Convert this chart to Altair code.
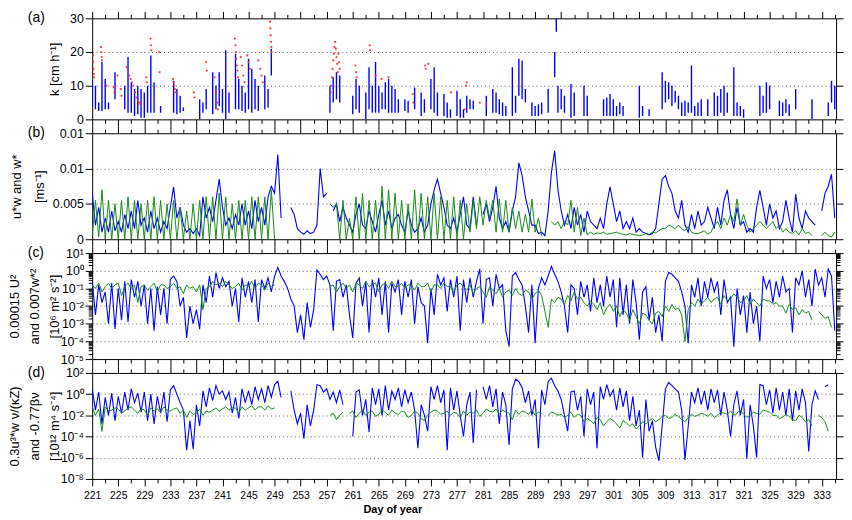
import altair as alt
import pandas as pd

FONT = "Liberation Sans"
BLUE = "#0000ff"
GREEN = "#168c16"
RED = "#ff2a2a"
W = 751
HA, H = 102, 107
XDOM = [221, 335.2]

# half-day sampling grid, day 221.0 ... 335.0
days = [221 + 0.5 * i for i in range(229)]

# ---------- panel (a): k [cm/h], vertical segments (low, high) ----------
k_day = [221.0, 221.5, 222.0, 222.5, 223.0, 223.5, 224.5, 226.0, 226.5, 227.0,
         227.5, 228.0, 228.5, 229.0, 229.5, 230.0, 230.5, 231.5, 233.5, 234.0,
         234.5, 235.0, 237.5, 238.0, 238.5, 239.5, 240.0, 240.5, 241.0, 241.5,
         242.0, 243.0, 243.5, 244.0, 244.5, 245.0, 245.5, 246.0, 246.5, 247.5,
         248.0, 248.5, 257.5, 258.0, 258.5, 259.0, 261.0, 261.5, 262.0, 263.0,
         263.5, 264.0, 264.5, 265.0, 265.5, 266.0, 266.5, 267.0, 267.5, 268.0,
         269.0, 269.5, 270.5, 271.5, 272.0, 273.0, 273.5, 274.0, 275.0, 275.5,
         276.0, 277.0, 277.5, 278.0, 278.5, 279.0, 279.5, 281.5, 282.5, 283.0,
         283.5, 284.0, 284.5, 285.5, 286.0, 286.5, 287.0, 287.5, 288.5, 289.0,
         289.5, 290.0, 291.0, 292.0, 292.25, 292.5, 293.0, 293.5, 294.5, 295.0,
         296.5, 297.0, 299.5, 300.0, 300.5, 301.0, 301.5, 302.0, 302.5, 305.0,
         305.5, 306.5, 308.5, 309.0, 309.5, 310.0, 310.5, 311.0, 311.5, 312.0,
         312.5, 313.0, 313.5, 314.0, 314.5, 315.5, 316.5, 317.0, 317.5, 318.0,
         318.5, 319.5, 320.0, 320.5, 321.0, 323.5, 324.0, 324.5, 325.0, 326.5,
         327.0, 327.5, 328.0, 329.0, 331.5, 334.0, 334.5, 335.0]
k_low = [4, 3, 2.5, 2.5, 3, 3, 6, 3, 2, 2,
         1, 1.5, 0.5, 0.5, 2, 2, 2, 2, 2, 1.5,
         2, 2.5, 0, 2, 3, 1.5, 3, 4, 2, 0,
         2, 3, 3, 2.5, 2, 3, 2, 3, 2.5, 3,
         3.5, 13, 2, 5, 6, 5, 1.5, 3, 2, 0,
         3, 2, 2, 2, 3, 3, 2, 2, 2, 2,
         2.5, 2, 3, 1, 2, 3, 2, 1, 1, 0.5,
         0.5, 1, 0.5, 0.5, 2, 3, 3, 1, 2, 2,
         1.5, 1, 1, 1, 2, 7, 6, 5, 1, 1,
         1, 1.5, 2, 12.5, 26, 2, 3, 2, 0.5, 1,
         1, 1, 1, 1, 1, 1, 1, 1.5, 1, 0.5,
         1, 1, 3, 5, 6, 4, 5, 3, 1, 1,
         2, 2, 1, 1, 1, 1, 1, 1, 2, 1,
         2, 1, 1, 1, 0.5, 1, 2, 2, 3, 1,
         1, 2, 1, 3, 0, 1, 5, 3]
k_high = [11.5, 10, 5, 17, 12, 5, 14, 10, 18.5, 11,
          9, 10, 9, 8, 10, 19, 11, 4, 11.5, 9,
          7, 3.5, 6, 5, 9, 14, 10, 14, 9, 20.5,
          8, 19.5, 12, 10, 8, 18, 15, 12, 10, 13,
          9, 21, 10, 12.5, 14, 13, 7, 12, 10, 8,
          15.5, 10, 17, 10, 8, 11, 12, 10, 9, 6,
          6, 5.5, 9.5, 8, 6, 12, 15.5, 8, 7.5, 5,
          3, 8.5, 6, 3, 7, 6, 5.5, 7, 9, 8,
          6, 5, 4, 15.5, 7, 18, 17.5, 9, 5, 4,
          4.5, 5, 9, 20, 30, 10, 9, 7, 10.5, 8,
          10, 7, 6, 6.5, 7.5, 6, 4, 5, 4, 10,
          4, 3, 14, 11.5, 11, 10, 8.5, 7, 5, 5.5,
          5, 16, 4, 5, 6, 6, 8, 7, 9, 10,
          8, 15.5, 5, 4, 3, 10, 7, 11, 10, 5.5,
          5, 6, 4.5, 9, 6, 5, 11.5, 10]

# red points in panel (a)
red_day = [221.1, 221.15, 221.2, 221.25, 221.3, 222.35, 222.4, 222.45, 222.5, 223.2,
           224.3, 224.4, 224.9, 225.4, 225.5, 226.3, 226.5, 226.7, 226.9, 227.1,
           227.3, 227.6, 227.8, 228.0, 228.2, 228.4, 229.3, 229.4, 229.95, 230.0,
           230.05, 231.3, 231.35, 233.4, 233.5, 233.6, 233.7, 233.8, 236.6, 236.7,
           238.5, 238.6, 239.8, 240.0, 240.2, 240.3, 242.9, 243.0, 243.05, 243.1,
           243.2, 243.3, 243.4, 243.8, 244.0, 244.2, 244.4, 244.8, 245.0, 245.2,
           246.5, 246.8, 247.0, 247.2, 248.3, 248.35, 248.4, 248.45, 248.5, 248.55,
           257.6, 257.7, 257.8, 257.9, 258.0, 258.1, 258.2, 258.3, 258.4, 258.5,
           258.6, 258.7, 258.8, 258.9, 259.0, 261.4, 261.5, 261.6, 263.6, 263.65,
           264.5, 265.4, 266.5, 270.2, 270.3, 272.1, 272.2, 272.6, 276.1, 278.2,
           278.4, 278.5, 280.5, 281.5]
red_k = [19, 17, 15, 13.5, 12.5, 21.5, 20, 18.5, 17.5, 10,
         9.5, 8, 13, 9, 7, 15.5, 14.5, 13, 12, 11,
         10, 8, 6.5, 5.5, 5, 4.5, 12.5, 11, 24, 22,
         20.5, 20, 14, 12, 11, 10, 9, 8, 8, 6.5,
         17, 14.5, 12.5, 8, 5, 3, 24, 22, 20, 18,
         16, 14.5, 12.5, 18.5, 16, 13, 11, 19, 17, 15,
         17.5, 15, 13, 11, 29, 27, 25, 23, 21.5, 20,
         8, 10, 12.5, 15, 17.5, 19.5, 21.5, 23, 21, 18.5,
         16.5, 14, 19.5, 17, 15, 16, 14, 12.5, 22, 20.5,
         13, 12, 12.5, 7.5, 5, 16, 15, 16.5, 8, 3,
         10, 11, 5, 4.5]

# ---------- panel (b): u*w and w* [mm/s], half-day values ----------
uw_mm = [
    6.5, 2, 4.5, 1, 3, 1, 4, 1.2,          # 221-224
    2.5, 1, 3.5, 1.5, 4, 1.5, 5.5, 2,      # 225-228
    3, 1, 4, 1.5, 3, 1, 2.5, 1.5,          # 229-232
    4.5, 7.4, 3, 4.5, 2, 1, 1.5, 0.8,      # 233-236
    1.5, 0.5, 6, 3, 4.5, 2.5, 5.5, 8.5,    # 237-240
    4.5, 2, 3, 1.5, 3.5, 2, 5, 2,          # 241-244
    4, 1.5, 5.5, 2.5, 4.5, 2, 6, 7.5,      # 245-248
    6.5, 12, 3, None, None, 4.5, 3.5, 1.5, # 249-252
    1, 0.7, 1.2, 0.8, 1, 2, 10, 6,         # 253-256
    6.5, None, 4, 5, 2.5, 4.5, 3, 2,       # 257-260
    1, 3.5, 5, 2, 1.5, 4, 2.5, 1,          # 261-264
    3.5, 5.5, 2, 4, 1.5, 3, 3.5, 2,        # 265-268
    1, 4, 2, 1, 1.5, 3, 1, 2,              # 269-272
    5, 7, 8.5, 6.5, 4.5, 2, 1.5, 3,        # 273-276
    1, 3.5, 6, 2, 1.5, 6, 2, None,         # 277-280
    3.5, 5, 2.5, 4.5, 7.5, 3, 1.5, 2.5,    # 281-284
    1, 4, 6, 10.8, 9, 6, 4, 2,             # 285-288
    2, 0.8, 1, 0.5, 4, 9.5, 12.5, 7,       # 289-292
    4, 2, 3.5, 1.5, 4.5, 2, 3.5, 1,        # 293-296
    4, 2.5, 2, 1.5, 3, 1.5, 5, 7.4,        # 297-300
    5, 2.5, 4, 1.5, 2.5, 1.5, 3, 1,        # 301-304
    1.5, 1, 0.8, 0.6, 0.8, 1.5, 5, 8.5,    # 305-308
    9, 7.5, 6.5, 4, 3, 5.5, 2, 1,          # 309-312
    3.5, 1.5, 4, 2, 2.5, 4.5, 3, 1.5,      # 313-316
    4.5, 2, 5.5, 7, 3.5, 1.5, 4.5, 2,      # 317-320
    2.5, 1, 1.5, 1, 4.5, 6.9, 4.5, 2,      # 321-324
    5, 3, 4, 1.5, 2.5, 5.5, 3, 1,          # 325-328
    6.4, 3, 1.5, 4, 3, 2.5, 2, None,       # 329-332
    4, 6.5, 7.5, 9.2, 3]                   # 333-335
wstar_mm = [
    0.5, 5.5, 0.3, 7, 0, 5.5, 0, 5,
    0, 5.5, 0, 6, 0, 5.5, 0, 5,
    0, 5.5, 0, 6, 0, 5.5, 0, 5,
    0, 5.5, 0, 4.5, 0, 4, 0, 5,
    0, 5.5, 0, 6, 0, 6, 0, 6.5,
    0, 6, 0, 5, 0, 5.5, 0, 5.5,
    0, 6, 0, 6, 0, 6, 0, 7,
    0, None, None, None, None, None, None, None,
    None, None, None, None, None, None, None, None,
    None, 5, 4.5, 5, 0, 5.5, 0, 3,
    0, 6, 0, 6.5, 0, 5.5, 0, 5.5,
    0, 7.5, 0, 7, 0, 6.5, 0, 5.5,
    0, 5, 0, 7, 0, 6.5, 0, 6,
    0, 6.5, 0, 6, 0, 5.5, 0, 6,
    0, 5.5, 0, 5, 1, 5.5, 1.5, 6,
    2, 5.5, 3, 5.5, 1, 5.7, 1, 5.5,
    1, 4.5, 1.5, 4, 1, 3.5, 1, 5.7,
    1, 3, 0.5, None, None, 2.5, 2, 2.5,
    1.5, 2.5, 2, 5.5, 1, 4.5, 0.5, 3,
    0.6, 1, 0.7, 0.9, 0.8, 1, 0.7, 0.8,
    0.9, 1, 0.8, 0.7, 0.6, 0.8, 0.7, 0.6,
    0.5, 0.6, 0.8, 0.7, 1, 0.9, 1.2, 1.5,
    1.5, 2, 1.8, 1.5, 2, 1.5, 1.2, 1.8,
    1, 0.8, 0.8, 1, 1.2, 0.7, 1, 2,
    2.5, 1.5, 3, 2, 3.5, 2.5, 5.7, 2,
    3.5, 2, 1, 1.5, 2, 2.5, 2, 1.5,
    2, 2.5, 1.5, 2, 1, 1.5, 1, 0.8,
    1.2, 0.6, 1.5, 0.8, 1, 0.5, None, None,
    0.5, 1, 0.5, 0.3, 1]

# ---------- panel (c): log10 of 0.00015U^2 and 0.007w*^2 ----------
cu_log = [
    -0.6, -2.5, -0.8, -1.8, -1.2, -3.0, -0.7, -3.3,
    -1.0, -2.8, -0.6, -2.9, -0.5, -1.5, -0.6, -2.0,
    -0.8, -3.0, -1.0, -3.4, -0.9, -2.5, -1.0, -3.0,
    -0.5, -0.3, -0.6, -2.0, -1.5, -3.8, -2.0, -3.0,
    -2.2, -3.3, -0.8, -1.8, -0.3, -1.5, -0.1, -1.0,
    -0.4, -0.9, -0.6, -2.0, -1.0, -2.9, -0.4, -1.5,
    -0.6, -1.8, -0.5, -2.9, -0.5, -1.0, -0.4, -1.2,
    -0.3, 0.2, -0.3, -0.6, -1.0, -1.6, -2.0, -3.5,
    -2.5, -3.9, -1.8, -3.2, -2.2, 0.05, -0.2, -0.5,
    -0.3, -0.8, -3.4, -0.6, -0.5, -1.5, -0.8, -2.5,
    -3.8, -0.7, -0.4, -2.0, -0.6, -3.5, -0.5, -1.5,
    -0.4, -2.5, -0.6, -3.5, -0.7, -1.2, -0.5, -2.5,
    -0.6, -1.5, -0.5, -3.0, -0.9, -1.8, -2.0, -4.1,
    -1.0, -2.5, -0.2, -0.8, -0.4, -2.3, -0.5, -1.5,
    -0.3, -3.4, -0.5, -1.8, -0.4, -1.5, -0.6, 0.1,
    -3.0, -0.5, -0.4, -2.0, -0.2, -1.0, -0.8, -3.4,
    -4.3, -0.3, -0.1, -0.5, -0.8, -2.0, -3.5, -0.8,
    -4.1, -1.0, -0.4, -0.8, -0.3, 0.25, -0.2, -0.6,
    -1.2, -2.0, -3.5, -0.8, -1.0, -2.5, -0.6, -1.5,
    -0.8, -2.3, -0.4, -1.8, -0.8, -2.0, -0.3, -1.5,
    -0.5, -3.2, -0.4, -2.5, -0.8, -3.0, -0.5, -1.8,
    -3.9, -1.2, -0.9, -2.8, -1.5, -3.5, -2.5, -4.0,
    -0.6, -0.1, -0.2, -0.4, -0.6, -1.2, -2.0, -4.1,
    -0.8, -1.5, -0.4, -2.0, -0.6, -1.5, -0.4, -1.2,
    -0.6, -2.5, -0.5, -1.8, -1.5, -4.3, -1.0, -2.5,
    -1.4, -3.5, -1.2, -3.0, -2.0, -4.0, -0.3, -1.0,
    -0.5, -1.8, -0.6, -1.5, -0.3, -1.2, -1.0, -3.5,
    -0.4, -0.8, 0.0, -1.5, -0.5, -2.0, 0.1, -0.8,
    -0.4, -1.5, 0.1, -0.3, -3.4]
cw_log = [
    -0.8, -1.0, -0.7, -1.2, -0.9, -0.7, -1.0, -0.8,
    -0.7, -1.4, -0.9, -0.7, -1.0, -0.8, -1.8, -0.9,
    -0.8, -1.1, -0.9, -0.7, -1.2, -0.8, -0.8, -1.0,
    -0.9, -0.7, -1.0, -0.9, -1.3, -0.8, -1.0, -0.9,
    -1.2, -0.8, -2.2, -1.0, -0.9, -0.6, -0.8, -0.7,
    -0.9, -0.6, -0.8, -1.0, -0.9, -0.7, -1.1, -0.8,
    -0.9, -0.6, -1.0, -0.7, -0.8, -1.1, -0.7, -0.9,
    -0.8, None, None, None, None, None, None, None,
    None, None, None, None, None, None, None, None,
    None, -0.9, -0.8, -1.2, -0.9, -0.7, -1.0, -0.8,
    -1.2, -0.7, -0.8, -1.0, -0.6, -0.9, -0.8, -0.7,
    -1.2, -0.8, -0.7, -1.0, -0.6, -0.9, -0.9, -0.7,
    -1.0, -0.8, -0.8, -1.1, -0.7, -0.9, -0.9, -0.7,
    -1.2, -0.8, -0.8, -1.0, -0.7, -0.9, -0.9, -1.2,
    -0.8, -0.7, -0.9, -1.1, -0.8, -1.3, -1.0, -0.9,
    -1.2, -1.5, -0.9, -1.1, -1.3, -1.0, -1.5, -1.2,
    -1.1, -1.4, -1.0, -1.3, -1.4, -1.1, -1.2, -1.6,
    -1.3, -1.1, -1.4, -2.3, -3.2, -1.6, -1.8, -1.5,
    -1.6, -1.9, -1.4, -1.7, -1.2, -1.6, -1.5, -1.8,
    -2.0, -1.7, -1.9, -2.2, -1.8, -2.5, -2.1, -1.9,
    -2.3, -2.0, -2.6, -2.2, -2.4, -2.8, -2.2, -2.6,
    -3.0, -2.4, -2.5, -2.8, -3.0, -2.4, -2.3, -2.6,
    -2.0, -2.3, -1.9, -2.2, -2.1, -2.5, -4.0, -2.2,
    -1.8, -2.0, -1.6, -1.9, -1.7, -1.5, -1.8, -1.6,
    -1.5, -1.9, -1.4, -1.7, -1.6, -1.3, -1.5, -1.8,
    -1.7, -1.4, -1.9, -1.6, -1.8, -2.0, -1.6, -1.7,
    -1.7, -1.9, -1.8, -2.0, -2.0, -2.4, -1.9, -2.2,
    -2.1, -2.5, -2.2, -2.4, -2.3, -2.8, None, -2.3,
    -2.5, -2.7, -2.6, -3.2, None]

# ---------- panel (d): log10 of 0.3u*w^3 nu/(kZ) and -0.77 beta nu ----------
du_log = [
    0.5, -1.5, 0.2, -2.8, -0.3, -2.0, 0.1, -2.5,
    -0.2, -1.8, 0.2, -1.5, 0.5, -0.8, 0.1, -1.7,
    0.2, -2.5, 0.0, -2.8, -0.2, -1.8, 0.2, -2.6,
    0.4, 0.8, 0.0, -0.8, -1.5, -5.3, -2.5, -5.2,
    -1.0, -3.0, 0.3, -1.2, 0.6, -0.6, 0.8, 0.0,
    0.3, -0.5, 0.2, -1.8, -0.3, -2.3, 0.5, -0.8,
    0.3, -1.0, 0.7, -0.5, 0.5, -0.8, 0.8, -0.3,
    0.9, 1.2, -0.3, None, None, 0.3, -1.5, -2.8,
    -1.8, -4.2, -1.0, -3.0, -1.5, 0.9, 0.8, 0.2,
    0.5, -0.5, 0.2, -0.8, 0.4, -1.0, None, None,
    -4.0, 0.2, 0.4, -2.0, -0.5, -3.6, 0.6, -1.0,
    0.5, -2.0, 0.8, -1.5, 0.3, -0.5, 0.6, -1.2,
    0.4, -0.8, 0.2, -1.5, -5.1, -1.0, -2.0, -3.5,
    0.7, -0.5, 0.8, -0.8, 0.4, -5.3, 0.6, -1.5,
    0.3, -2.0, -4.0, -1.0, 0.2, -4.6, 0.4, None,
    0.7, -0.5, 0.8, -1.2, 0.5, -2.8, 0.2, -1.0,
    -4.8, 0.5, 1.4, 1.2, 0.6, -0.8, 0.3, -2.0,
    -0.5, -5.1, 0.4, -1.0, 1.2, 1.5, 0.8, 0.3,
    -0.5, -2.0, -3.5, 0.2, 0.3, -1.5, -0.2, -4.0,
    0.5, -1.0, 0.2, -5.1, 0.7, -0.5, 0.9, -0.2,
    0.4, -1.5, 0.6, -1.2, 0.3, -2.5, -0.2, -3.0,
    -1.5, -6.0, -0.5, -3.5, -2.5, -5.0, -6.3, -3.0,
    0.5, 1.1, 0.8, 0.5, 0.2, -1.5, -6.2, -3.0,
    0.2, -0.8, 0.6, -1.0, 0.3, -1.5, 0.5, -0.8,
    0.4, -2.0, 0.2, -1.5, -4.0, -1.0, 0.3, -2.0,
    -0.5, -6.1, -1.0, -3.0, -6.0, 0.9, 0.8, -1.0,
    0.4, -1.8, 0.6, -1.5, 0.2, -2.0, 0.5, -2.5,
    0.3, -1.5, 0.5, -0.8, -5.4, -1.0, 0.3, -0.5,
    None, 0.7, 0.9, None, -4.5]
dw_log = [
    -1.2, -2.0, -1.4, -3.5, -1.2, -1.6, -1.5, -1.3,
    -1.4, -1.8, -1.6, -1.3, -1.2, -1.5, -1.8, -1.4,
    -1.5, -2.0, -1.3, -1.6, -1.4, -1.7, -1.2, -1.5,
    -1.6, -1.4, -1.3, -1.8, -1.5, -2.2, -1.6, -1.9,
    -1.8, -1.4, -2.0, -1.6, -1.7, -1.5, -1.3, -1.6,
    -1.4, -1.2, -1.5, -1.3, -1.3, -1.8, -1.2, -1.5,
    -1.3, -1.1, -1.5, -1.2, -1.2, -1.5, -1.1, -1.4,
    -1.3, None, None, None, None, None, None, None,
    None, None, None, None, None, None, None, None,
    None, -2.0, -1.8, -2.4, -2.0, -1.7, None, -1.8,
    -1.6, -2.2, -1.8, -1.5, -2.0, -1.7, -1.6, -2.1,
    -1.9, -1.5, -1.7, -2.0, -1.5, -1.8, -1.9, -1.6,
    -1.7, -2.2, -2.0, -1.6, -1.8, -2.3, -2.5, -2.0,
    -1.7, -1.5, -1.6, -1.9, -1.8, -1.6, -2.0, -1.7,
    -1.8, -2.2, -1.6, -2.0, -1.7, -1.8, -1.5, -2.1,
    -1.8, -1.4, -1.6, -1.7, -1.4, -1.9, -1.5, -1.7,
    -1.8, -2.4, -1.5, -1.9, -1.6, -1.7, -1.9, -1.5,
    -2.0, -1.7, -1.8, None, -2.0, -1.7, -1.8, -2.0,
    -1.9, -2.2, -2.0, -1.7, -2.2, -1.9, -2.0, -2.6,
    -2.3, -2.5, -2.8, -2.2, -2.4, -3.0, -2.6, -2.3,
    -2.5, -2.8, -3.2, -2.5, -2.7, -3.0, -2.8, -3.3,
    -3.0, -2.6, -2.8, -2.5, -2.3, -2.6, -2.4, -2.1,
    -2.0, -2.3, -2.2, -1.9, -2.1, -2.4, -2.6, -2.2,
    -1.9, -2.1, -2.0, -1.8, -1.9, -2.1, -1.8, -2.2,
    -2.0, -1.7, -1.8, -1.9, -1.6, -2.0, -1.8, -1.5,
    -1.9, -2.2, -2.0, -1.7, -1.8, -1.9, -1.5, -1.6,
    -1.7, -2.0, -2.0, -2.3, -2.2, -1.9, -2.1, -2.4,
    -2.5, -2.0, -2.2, -2.6, -2.4, -3.0, None, -2.0,
    -2.2, -2.6, -3.5, None, None]

XMAJ = list(range(221, 336, 4))
XMIN = list(range(223, 336, 4))


def p10(v):
    return None if v is None else 10.0 ** v


def mm(v):
    return None if v is None else v / 1000.0


df_a = pd.DataFrame({"day": k_day, "lo": k_low, "hi": k_high})
df_r = pd.DataFrame({"day": red_day, "k": red_k})
df_b = pd.DataFrame({"day": days, "u": [mm(v) for v in uw_mm], "w": [mm(v) for v in wstar_mm]})
df_c = pd.DataFrame({"day": days, "u": [p10(v) for v in cu_log], "w": [p10(v) for v in cw_log]})
df_d = pd.DataFrame({"day": days, "u": [p10(v) for v in du_log], "w": [p10(v) for v in dw_log]})

xs = alt.Scale(domain=XDOM, nice=False, zero=False)

AX = dict(domain=False, tickColor="black", tickWidth=1, labelFont=FONT, titleFont=FONT,
          labelColor="black", titleColor="black", labelFlush=False, labelOverlap=False)


def xaxis(kind, orient, bottom=False):
    if kind == "major":
        if bottom:
            return alt.Axis(orient=orient, values=XMAJ, tickSize=7, grid=False, labels=True,
                            labelFontSize=10.5, labelPadding=5, title="Day of year",
                            titleFontWeight="bold", titleFontSize=11, titleX=303, titleY=31,
                            titleAlign="center", titleBaseline="middle", **AX)
        return alt.Axis(orient=orient, values=XMAJ, tickSize=7, grid=False, labels=False,
                        title=None, **AX)
    return alt.Axis(orient=orient, values=XMIN, tickSize=4, grid=False, labels=False,
                    title=None, **AX)


def yleft(values, lo, hi, title, tx, h, lh=20, fmt=None, expr=None):
    # tx is the position of the FIRST title line; further lines go to the right
    kw = dict(orient="left", values=values, tickSize=7, labels=True, labelFontSize=12.5,
              labelPadding=2, grid=True, gridColor="#555555", gridDash=[1, 3], gridWidth=0.9,
              gridOpacity={"condition": {"test": f"datum.value > {lo} && datum.value < {hi}",
                                         "value": 1}, "value": 0},
              title=title, titleX=tx, titleY=h / 2, titleAngle=270, titleAlign="center",
              titleBaseline="middle", titleFontSize=13, titleFontWeight="normal",
              titleLineHeight=lh)
    if fmt:
        kw["format"] = fmt
    if expr:
        kw["labelExpr"] = expr
    return alt.Axis(**kw, **AX)


def ytick(values, orient, size):
    return alt.Axis(orient=orient, values=values, tickSize=size, labels=False, grid=False,
                    title=None, **AX)


def label(txt):
    return alt.Chart(pd.DataFrame({"t": [txt]})).mark_text(
        font=FONT, fontSize=14, align="left", baseline="middle", color="black"
    ).encode(text="t:N", x=alt.value(-65), y=alt.value(0))


def finish(layers, h):
    return alt.layer(*layers).resolve_axis(x="independent", y="independent").properties(
        width=W, height=h)


LOGLAB = ("'10' + (round(log(datum.value)/LN10) < 0 ? '\u207b' : '') + "
          "substring('\u2070\u00b9\u00b2\u00b3\u2074\u2075\u2076\u2077\u2078\u2079', "
          "abs(round(log(datum.value)/LN10)), abs(round(log(datum.value)/LN10)) + 1)")

# ---- panel (a)
ya = alt.Scale(domain=[0, 30], nice=False, zero=False)
ya_vals = [0, 10, 20, 30]
pa = finish([
    alt.Chart(df_a).mark_rule(color=BLUE, strokeWidth=1.4, clip=True).encode(
        x=alt.X("day:Q", scale=xs, axis=xaxis("major", "bottom")),
        y=alt.Y("lo:Q", scale=ya, axis=yleft(ya_vals, 0, 30, "k [cm h\u207b\u00b9]", -38, HA)),
        y2="hi:Q"),
    alt.Chart(df_r).mark_circle(size=5, color=RED, opacity=0.9, clip=True).encode(
        x=alt.X("day:Q", scale=xs, axis=xaxis("minor", "bottom")),
        y=alt.Y("k:Q", scale=ya, axis=None)),
    alt.Chart(df_a).mark_point(opacity=0).encode(
        x=alt.X("day:Q", scale=xs, axis=xaxis("major", "top")),
        y=alt.Y("hi:Q", scale=ya, axis=ytick(ya_vals, "right", 7))),
    alt.Chart(df_a).mark_point(opacity=0).encode(
        x=alt.X("day:Q", scale=xs, axis=xaxis("minor", "top")),
        y=alt.Y("hi:Q", scale=ya, axis=None)),
    label("(a)"),
], HA)


def lines_panel(df, ys, yl_axis, yr_major, yl_minor, yr_minor, txt, bottom=False):
    return finish([
        alt.Chart(df).mark_line(color=BLUE, strokeWidth=1.1, clip=True).encode(
            x=alt.X("day:Q", scale=xs, axis=xaxis("major", "bottom", bottom)),
            y=alt.Y("u:Q", scale=ys, axis=yl_axis)),
        alt.Chart(df).mark_line(color=GREEN, strokeWidth=1, clip=True).encode(
            x=alt.X("day:Q", scale=xs, axis=xaxis("minor", "bottom")),
            y=alt.Y("w:Q", scale=ys, axis=yl_minor)),
        alt.Chart(df).mark_point(opacity=0).encode(
            x=alt.X("day:Q", scale=xs, axis=xaxis("major", "top")),
            y=alt.Y("u:Q", scale=ys, axis=yr_major)),
        alt.Chart(df).mark_point(opacity=0).encode(
            x=alt.X("day:Q", scale=xs, axis=xaxis("minor", "top")),
            y=alt.Y("u:Q", scale=ys, axis=yr_minor)),
        label(txt),
    ], H)


# ---- panel (b)
yb = alt.Scale(domain=[0, 0.015], nice=False, zero=False)
yb_vals = [0, 0.005, 0.01, 0.015]
pb = lines_panel(
    df_b, yb,
    yleft(yb_vals, 0.001, 0.014, ["u*w and w*", "[ms\u207b\u00b9]"], -76, H, lh=23, fmt="~g"),
    ytick(yb_vals, "right", 7), None, None, "(b)")

# ---- panel (c)
yc = alt.Scale(type="log", domain=[1e-5, 10], nice=False)
yc_vals = [10.0 ** k for k in range(-5, 2)]
yc_minor = [m * 10.0 ** k for k in range(-5, 1) for m in range(2, 10)]
pc = lines_panel(
    df_c, yc,
    yleft(yc_vals, 2e-5, 5, ["0.00015 U\u00b2", "and 0.007w*\u00b2",
                             "[10\u2076 m\u00b2 s\u207b\u00b2]"], -78, H, lh=20, expr=LOGLAB),
    ytick(yc_vals, "right", 7), ytick(yc_minor, "left", 4), ytick(yc_minor, "right", 4), "(c)")

# ---- panel (d)
yd = alt.Scale(type="log", domain=[1e-8, 100], nice=False)
yd_vals = [10.0 ** k for k in range(-8, 3, 2)]
pd_ = lines_panel(
    df_d, yd,
    yleft(yd_vals, 2e-8, 50, ["0.3u\u00b3*w \u03bd/(\u03baZ)", "and -0.77\u03b2\u03bd",
                              "[10\u00b9\u00b2 m\u2074 s\u207b\u2074]"], -78, H, lh=20, expr=LOGLAB),
    ytick(yd_vals, "right", 7), None, None, "(d)", bottom=True)

chart = alt.vconcat(pa, pb, pc, pd_, spacing=14, bounds="flush").properties(
    padding={"top": 0, "left": 0, "right": 0, "bottom": 0},
    background="white",
).configure_view(stroke="black", strokeWidth=1)

chart.save("out.html", embed_options={"renderer": "svg", "actions": False})
